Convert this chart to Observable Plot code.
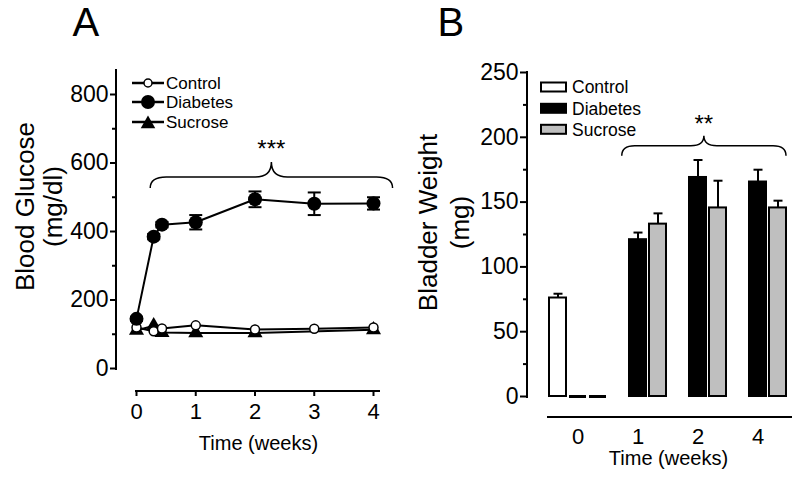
<!DOCTYPE html>
<html><head><meta charset="utf-8">
<script src="https://cdn.jsdelivr.net/npm/d3@7"></script>
<script src="https://cdn.jsdelivr.net/npm/@observablehq/plot@0.6"></script>
<style>
body{margin:0;background:#fff;}
#wrap{position:relative;width:800px;height:477px;}
.panel{position:absolute;top:0;width:400px;height:477px;}
</style></head><body>
<div id="wrap">
  <div class="panel" id="pa" style="left:0"></div>
  <div class="panel" id="pb" style="left:400px"></div>
</div>
<script>
// ---------- Panel A data (Blood glucose, mg/dl) ----------
const seriesNames = ["Control", "Diabetes", "Sucrose"];
const weeksA = [0, 0.29, 0.43, 1, 2, 3, 4];
const controlA = [120, 109, 117, 126, 114, 116, 120];
const diabetesA = [145, 385, 420, 427, 494, 481, 482];
const diabetesErrA = [6, 8, 8, 21, 23, 33, 18];
const sucroseWeeksA = [0, 0.29, 0.43, 1, 2, 4];
const sucroseA = [111, 125, 105, 104, 104, 113];
const yTicksA = [0, 200, 400, 600, 800];
const yMinorA = [100, 300, 500, 700];
const xTicksA = [0, 1, 2, 3, 4];
const braceA = {from: 0.24, to: 4.33, y: 558, label: "***"};

// ---------- Panel B data (Bladder weight, mg) ----------
const weeksB = ["0", "1", "2", "4"];
const controlB = [76, null, null, null];
const controlErrB = [3.3, null, null, null];
const diabetesB = [0, 121, 169, 165.5];
const diabetesErrB = [0, 5.5, 13.5, 9.5];
const sucroseB = [0, 133, 145.5, 145.5];
const sucroseErrB = [0, 8.3, 21, 5.6];
const yTicksB = [0, 50, 100, 150, 200, 250];
const yMinorB = [25, 75, 125, 175, 225];
const braceB = {from: "1|Control", to: "4|Sucrose", y: 193, label: "**"};

const FONT = "'Liberation Sans', Arial, Helvetica, sans-serif";
const W = 400, H = 477;

// ---------- helpers ----------
const capSymbol = {draw(ctx, size) { const r = Math.sqrt(size / Math.PI); ctx.moveTo(-r, 0); ctx.lineTo(r, 0); }};

function label(str, px, py, m, opts = {}) {
  return Plot.text([str], {frameAnchor: "top-left", dx: px - m.l, dy: py - m.t, text: d => d, fill: "black",
    textAnchor: "middle", lineAnchor: "middle", ...opts});
}

function axisLines(m, opt) {
  return (index, scales) => {
    const g = d3.create("svg:g").attr("stroke", "black").attr("stroke-width", 2).attr("fill", "none");
    const sy = scales.y, sx = scales.x;
    const left = m.l, bottom = H - m.b;
    g.append("line").attr("x1", left).attr("x2", left).attr("y1", m.t - 1).attr("y2", sy(0) + 2);
    g.append("line").attr("x1", sx(opt.xStart) - opt.xPad).attr("x2", W - m.r)
      .attr("y1", bottom).attr("y2", bottom);
    return g.node();
  };
}

function braceMark(b, opt) {
  return (index, scales) => {
    const sx = scales.x, sy = scales.y;
    const bw = sx.bandwidth ? sx.bandwidth() : 0;
    const xa = sx(b.from) + bw * opt.fromOff, xb = sx(b.to) + bw * opt.toOff;
    const yf = sy(b.y), xm = (xa + xb) / 2, c = opt.curve, d = opt.drop, r = opt.rise;
    const g = d3.create("svg:g");
    g.append("path")
      .attr("d", `M${xa},${yf + d}Q${xa},${yf} ${xa + c},${yf}L${xm - c},${yf}Q${xm},${yf} ${xm},${yf - r}` +
                 `Q${xm},${yf} ${xm + c},${yf}L${xb - c},${yf}Q${xb},${yf} ${xb},${yf + d}`)
      .attr("fill", "none").attr("stroke", "black").attr("stroke-width", 1.5);
    g.append("text").attr("x", xm).attr("y", yf - opt.starGap).attr("text-anchor", "middle")
      .attr("font-size", 24).attr("font-family", FONT).attr("fill", "black").text(b.label);
    return g.node();
  };
}

// ---------- Panel A ----------
const ctlRowsA = weeksA.map((w, i) => ({week: w, value: controlA[i]}));
const diaRowsA = weeksA.map((w, i) => ({week: w, value: diabetesA[i], err: diabetesErrA[i]}));
const sucRowsA = sucroseWeeksA.map((w, i) => ({week: w, value: sucroseA[i]}));

const mA = {l: 116, t: 70, r: 20, b: 86};
const legendA = () => {
  const g = d3.create("svg:g").attr("font-family", FONT).attr("font-size", 17);
  const rows = [
    {name: seriesNames[0], y: 83, kind: "open"},
    {name: seriesNames[1], y: 102, kind: "filled"},
    {name: seriesNames[2], y: 122, kind: "tri"}
  ];
  for (const d of rows) {
    g.append("line").attr("x1", 132).attr("x2", 164).attr("y1", d.y).attr("y2", d.y).attr("stroke", "black").attr("stroke-width", 2.5);
    if (d.kind === "open") g.append("circle").attr("cx", 148).attr("cy", d.y).attr("r", 4).attr("fill", "white").attr("stroke", "black").attr("stroke-width", 1.5);
    if (d.kind === "filled") g.append("circle").attr("cx", 148).attr("cy", d.y).attr("r", 7).attr("fill", "black");
    if (d.kind === "tri") g.append("path").attr("transform", `translate(148,${d.y + 2})`).attr("d", d3.symbol(d3.symbolTriangle, Math.PI * 5.4 * 5.4)()).attr("fill", "black");
    g.append("text").attr("x", 166).attr("y", d.y).attr("dy", "0.36em").attr("text-anchor", "start").attr("fill", "black").text(d.name);
  }
  return g.node();
};

const plotA = Plot.plot({
  width: W, height: H,
  marginLeft: mA.l, marginTop: mA.t, marginRight: mA.r, marginBottom: mA.b,
  style: {fontFamily: FONT, fontSize: "22px", background: "transparent", color: "black", overflow: "visible"},
  x: {domain: [0, 4], range: [136, 373]},
  y: {domain: [0, 800], range: [368, 94]},
  marks: [
    axisLines(mA, {xStart: 0, xPad: 1}),
    Plot.axisY({ticks: yTicksA, tickSize: 6, tickPadding: 2, fontSize: 23, strokeWidth: 2, label: null}),
    Plot.axisY({ticks: yMinorA, tickSize: 4, tickFormat: () => "", strokeWidth: 2, label: null}),
    Plot.axisX({ticks: xTicksA, tickFormat: d => String(d), tickSize: 5, tickPadding: 7, fontSize: 22, strokeWidth: 2, label: null}),
    Plot.line(ctlRowsA, {x: "week", y: "value", stroke: "black", strokeWidth: 2}),
    Plot.line(sucRowsA, {x: "week", y: "value", stroke: "black", strokeWidth: 2}),
    Plot.line(diaRowsA, {x: "week", y: "value", stroke: "black", strokeWidth: 2}),
    Plot.ruleX(diaRowsA, {x: "week", y1: d => d.value - d.err, y2: d => d.value + d.err, stroke: "black", strokeWidth: 2}),
    Plot.dot(diaRowsA, {x: "week", y: d => d.value + d.err, symbol: capSymbol, r: 6.5, fill: "none", stroke: "black", strokeWidth: 2}),
    Plot.dot(diaRowsA, {x: "week", y: d => d.value - d.err, symbol: capSymbol, r: 6.5, fill: "none", stroke: "black", strokeWidth: 2}),
    Plot.dot(sucRowsA, {x: "week", y: "value", symbol: "triangle", r: 5.6, fill: "black", stroke: "none"}),
    Plot.dot(ctlRowsA, {x: "week", y: "value", r: 4.5, fill: "white", stroke: "black", strokeWidth: 1.5}),
    Plot.dot(diaRowsA, {x: "week", y: "value", r: 7, fill: "black", stroke: "none"}),
    braceMark(braceA, {fromOff: 0, toOff: 0, curve: 16, drop: 11, rise: 15, starGap: 20}),
    legendA,
    label("A", 72, 35, mA, {fontSize: 40, textAnchor: "start", lineAnchor: "bottom"}),
    label("Blood Glucose", 25, 206, mA, {fontSize: 26, rotate: -90}),
    label("(mg/dl)", 53, 206, mA, {fontSize: 26, rotate: -90}),
    label("Time (weeks)", 258, 443, mA, {fontSize: 20})
  ]
});
document.getElementById("pa").append(plotA);

// ---------- Panel B ----------
const slots = weeksB.flatMap(w => seriesNames.map(s => `${w}|${s}`));
const valsB = {Control: [controlB, controlErrB], Diabetes: [diabetesB, diabetesErrB], Sucrose: [sucroseB, sucroseErrB]};
const rowsB = [];
for (const s of seriesNames) {
  weeksB.forEach((w, i) => {
    const v = valsB[s][0][i];
    if (v != null) rowsB.push({slot: `${w}|${s}`, week: w, series: s, value: v, err: valsB[s][1][i]});
  });
}
const barRows = rowsB.filter(d => d.value > 0);
const zeroRows = rowsB.filter(d => d.value === 0);
const errRows = rowsB.filter(d => d.err > 0);

const mB = {l: 127, t: 72, r: 8, b: 60};
const legendB = (index, scales) => {
  const g = d3.create("svg:g").attr("font-family", FONT).attr("font-size", 17.5);
  const ys = [87, 108.3, 129.3];
  seriesNames.forEach((s, i) => {
    g.append("rect").attr("x", 141).attr("y", ys[i] - 4.5).attr("width", 25).attr("height", 9)
      .attr("fill", scales.color(s)).attr("stroke", "black").attr("stroke-width", 2);
    g.append("text").attr("x", 172).attr("y", ys[i]).attr("dy", "0.36em").attr("text-anchor", "start").attr("fill", "black").text(s);
  });
  return g.node();
};

const plotB = Plot.plot({
  width: W, height: H,
  marginLeft: mB.l, marginTop: mB.t, marginRight: mB.r, marginBottom: mB.b,
  style: {fontFamily: FONT, fontSize: "22px", background: "transparent", color: "black", overflow: "visible"},
  x: {type: "band", domain: slots, range: [146, 389.5], paddingInner: 0.14, paddingOuter: 0.07},
  y: {domain: [0, 250], range: [396, 72]},
  color: {domain: seriesNames, range: ["white", "black", "#bfbfbf"]},
  marks: [
    axisLines(mB, {xStart: slots[0], xPad: 2}),
    Plot.axisY({ticks: yTicksB, tickSize: 7, tickPadding: 2, fontSize: 23, strokeWidth: 2, label: null}),
    Plot.axisY({ticks: yMinorB, tickSize: 4, tickFormat: () => "", strokeWidth: 2, label: null}),
    Plot.axisX({ticks: weeksB.map(w => `${w}|Diabetes`), tickFormat: d => d.split("|")[0], tickSize: 0, tickPadding: 11, fontSize: 22, label: null}),
    Plot.ruleX(errRows, {x: "slot", y1: "value", y2: d => d.value + d.err, stroke: "black", strokeWidth: 2}),
    Plot.dot(errRows, {x: "slot", y: d => d.value + d.err, symbol: capSymbol, r: 4.5, fill: "none", stroke: "black", strokeWidth: 2}),
    Plot.barY(barRows, {x: "slot", y: "value", fill: "series", stroke: "black", strokeWidth: 2}),
    Plot.tickY(zeroRows, {x: "slot", y: "value", stroke: "black", strokeWidth: 3}),
    braceMark(braceB, {fromOff: 0.75, toOff: 1, curve: 13, drop: 10, rise: 10, starGap: 14}),
    legendB,
    label("B", 37, 35, mB, {fontSize: 40, textAnchor: "start", lineAnchor: "bottom"}),
    label("Bladder Weight", 28, 222, mB, {fontSize: 26, rotate: -90}),
    label("(mg)", 60, 222, mB, {fontSize: 26, rotate: -90}),
    label("Time (weeks)", 268, 458, mB, {fontSize: 20})
  ]
});
document.getElementById("pb").append(plotB);
</script>
</body></html>
